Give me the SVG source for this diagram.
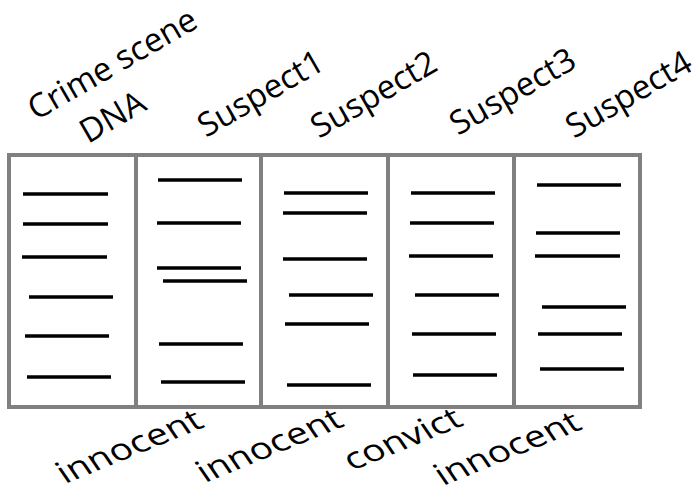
<svg xmlns="http://www.w3.org/2000/svg" width="695" height="489" viewBox="0 0 695 489">
<style>
.lane{fill:#fff;stroke:#808080;stroke-width:4}
.band{stroke:#000;stroke-width:3.5}
.lbl{font-family:"Open Sans","Liberation Sans",sans-serif;font-size:33px;fill:#000}
.bot{font-family:"Open Sans","Liberation Sans",sans-serif;font-size:30px;fill:#000}
</style>
<rect width="695" height="489" fill="#fff"/>
<g id="lane-dna">
<rect class="lane" x="9" y="155" width="127" height="252"/>
<text class="lbl" transform="translate(36,121) rotate(-30)">Crime scene</text>
<text class="lbl" transform="translate(88,144) rotate(-30)">DNA</text>
<line class="band" x1="23" y1="194" x2="108" y2="194"/>
<line class="band" x1="23" y1="224" x2="108" y2="224"/>
<line class="band" x1="22" y1="257" x2="107" y2="257"/>
<line class="band" x1="29" y1="297" x2="113" y2="297"/>
<line class="band" x1="25" y1="336" x2="109" y2="336"/>
<line class="band" x1="27" y1="377" x2="111" y2="377"/>
</g>
<g id="lane-suspect1">
<rect class="lane" x="136" y="155" width="125" height="252"/>
<text class="lbl" transform="translate(206,138) rotate(-30)">Suspect1</text>
<line class="band" x1="158" y1="180" x2="242" y2="180"/>
<line class="band" x1="157" y1="223" x2="241" y2="223"/>
<line class="band" x1="157" y1="268" x2="241" y2="268"/>
<line class="band" x1="163" y1="281" x2="247" y2="281"/>
<line class="band" x1="159" y1="344" x2="243" y2="344"/>
<line class="band" x1="161" y1="382" x2="245" y2="382"/>
<text class="bot" transform="translate(65,484) scale(1.3,1) rotate(-28)">innocent</text>
</g>
<g id="lane-suspect2">
<rect class="lane" x="261" y="155" width="127" height="252"/>
<text class="lbl" transform="translate(319,139) rotate(-30)">Suspect2</text>
<line class="band" x1="284" y1="193" x2="368" y2="193"/>
<line class="band" x1="283" y1="213" x2="367" y2="213"/>
<line class="band" x1="283" y1="259" x2="367" y2="259"/>
<line class="band" x1="289" y1="295" x2="373" y2="295"/>
<line class="band" x1="285" y1="324" x2="369" y2="324"/>
<line class="band" x1="287" y1="385" x2="371" y2="385"/>
<text class="bot" transform="translate(205,483) scale(1.3,1) rotate(-28)">innocent</text>
</g>
<g id="lane-suspect3">
<rect class="lane" x="388" y="155" width="126" height="252"/>
<text class="lbl" transform="translate(458,136) rotate(-30)">Suspect3</text>
<line class="band" x1="411" y1="193" x2="495" y2="193"/>
<line class="band" x1="410" y1="223" x2="494" y2="223"/>
<line class="band" x1="409" y1="256" x2="493" y2="256"/>
<line class="band" x1="415" y1="295" x2="499" y2="295"/>
<line class="band" x1="412" y1="334" x2="496" y2="334"/>
<line class="band" x1="413" y1="375" x2="497" y2="375"/>
<text class="bot" transform="translate(352,471) scale(1.3,1) rotate(-28)">convict</text>
</g>
<g id="lane-suspect4">
<rect class="lane" x="514" y="155" width="126" height="252"/>
<text class="lbl" transform="translate(574,139) rotate(-30)">Suspect4</text>
<line class="band" x1="537" y1="185" x2="621" y2="185"/>
<line class="band" x1="536" y1="233" x2="620" y2="233"/>
<line class="band" x1="535" y1="256" x2="620" y2="256"/>
<line class="band" x1="542" y1="307" x2="626" y2="307"/>
<line class="band" x1="538" y1="334" x2="622" y2="334"/>
<line class="band" x1="540" y1="369" x2="624" y2="369"/>
<text class="bot" transform="translate(443,486) scale(1.3,1) rotate(-28)">innocent</text>
</g>
<g id="connectors"/>
</svg>
